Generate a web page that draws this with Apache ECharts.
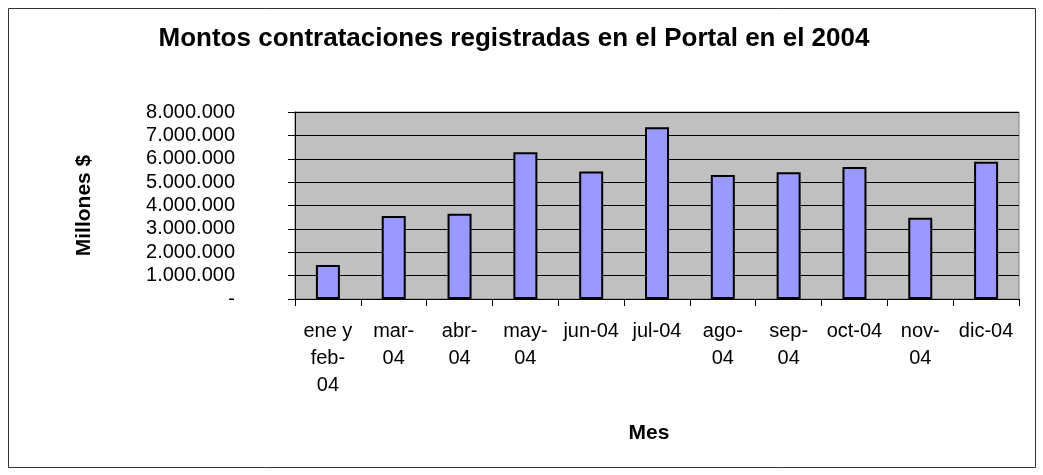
<!DOCTYPE html>
<html>
<head>
<meta charset="utf-8">
<title>Montos contrataciones 2004</title>
<script src="https://cdn.jsdelivr.net/npm/echarts@6/dist/echarts.min.js"></script>
<style>
  html, body { margin: 0; padding: 0; background: #fff; }
  #myChart { width: 1043px; height: 475px; }
</style>
</head>
<body>
<div id="myChart"></div>
<script>
  // datos
  var meses = ['ene y feb-04', 'mar-04', 'abr-04', 'may-04', 'jun-04', 'jul-04',
               'ago-04', 'sep-04', 'oct-04', 'nov-04', 'dic-04']
  var etiquetas = ['ene y\nfeb-\n04', 'mar-\n04', 'abr-\n04', 'may-\n04', 'jun-04', 'jul-04',
                   'ago-\n04', 'sep-\n04', 'oct-04', 'nov-\n04', 'dic-04']
  var montos = [1450000, 3550000, 3650000, 6280000, 5450000, 7350000,
                5300000, 5420000, 5650000, 3480000, 5870000]

  var fuente = 'Liberation Sans, Arial, sans-serif'

  function miles(v) {
    if (v === 0) return '-'
    return String(v).replace(/\B(?=(\d{3})+(?!\d))/g, '.')
  }

  var myChart = echarts.init(document.getElementById('myChart'))
  myChart.setOption({
    animation: false,
    textStyle: {fontFamily: fuente},
    title: {
      text: 'Montos contrataciones registradas en el Portal en el 2004',
      left: 514,
      textAlign: 'center',
      top: 26,
      padding: 0,
      textStyle: {fontSize: 26, fontWeight: 'bold', color: '#000', fontFamily: fuente}
    },
    graphic: [{
      type: 'rect',
      shape: {x: 8.5, y: 8.5, width: 1027, height: 459},
      style: {fill: 'none', stroke: '#333', lineWidth: 1},
      silent: true
    }],
    grid: {
      left: 295,
      right: 24,
      top: 112,
      bottom: 176,
      show: true,
      backgroundColor: '#C0C0C0',
      borderColor: '#808080',
      borderWidth: 1
    },
    xAxis: {
      type: 'category',
      data: meses,
      name: 'Mes',
      nameLocation: 'middle',
      nameGap: 124,
      nameTextStyle: {fontSize: 21, fontWeight: 'bold', color: '#000', padding: [0, 16, 0, 0]},
      axisLine: {lineStyle: {color: '#000', width: 1}},
      axisTick: {show: true, length: 7, lineStyle: {color: '#000'}},
      axisLabel: {
        interval: 0,
        margin: 19,
        fontSize: 20,
        lineHeight: 27,
        color: '#000',
        formatter: function (v, i) { return etiquetas[i] }
      }
    },
    yAxis: {
      type: 'value',
      min: 0,
      max: 8000000,
      interval: 1000000,
      name: 'Millones $',
      nameLocation: 'middle',
      nameGap: 200,
      nameTextStyle: {fontSize: 21, fontWeight: 'bold', color: '#000'},
      axisLine: {show: true, lineStyle: {color: '#000', width: 1}},
      axisTick: {show: true, length: 7, lineStyle: {color: '#000'}},
      axisLabel: {margin: 60, fontSize: 20, color: '#000', formatter: miles},
      splitLine: {show: true, lineStyle: {color: '#000', width: 1}}
    },
    series: [{
      name: 'Montos',
      type: 'bar',
      data: montos,
      barWidth: 24,
      itemStyle: {color: '#9999FF', borderColor: '#000', borderWidth: 2}
    }]
  })
</script>
</body>
</html>
